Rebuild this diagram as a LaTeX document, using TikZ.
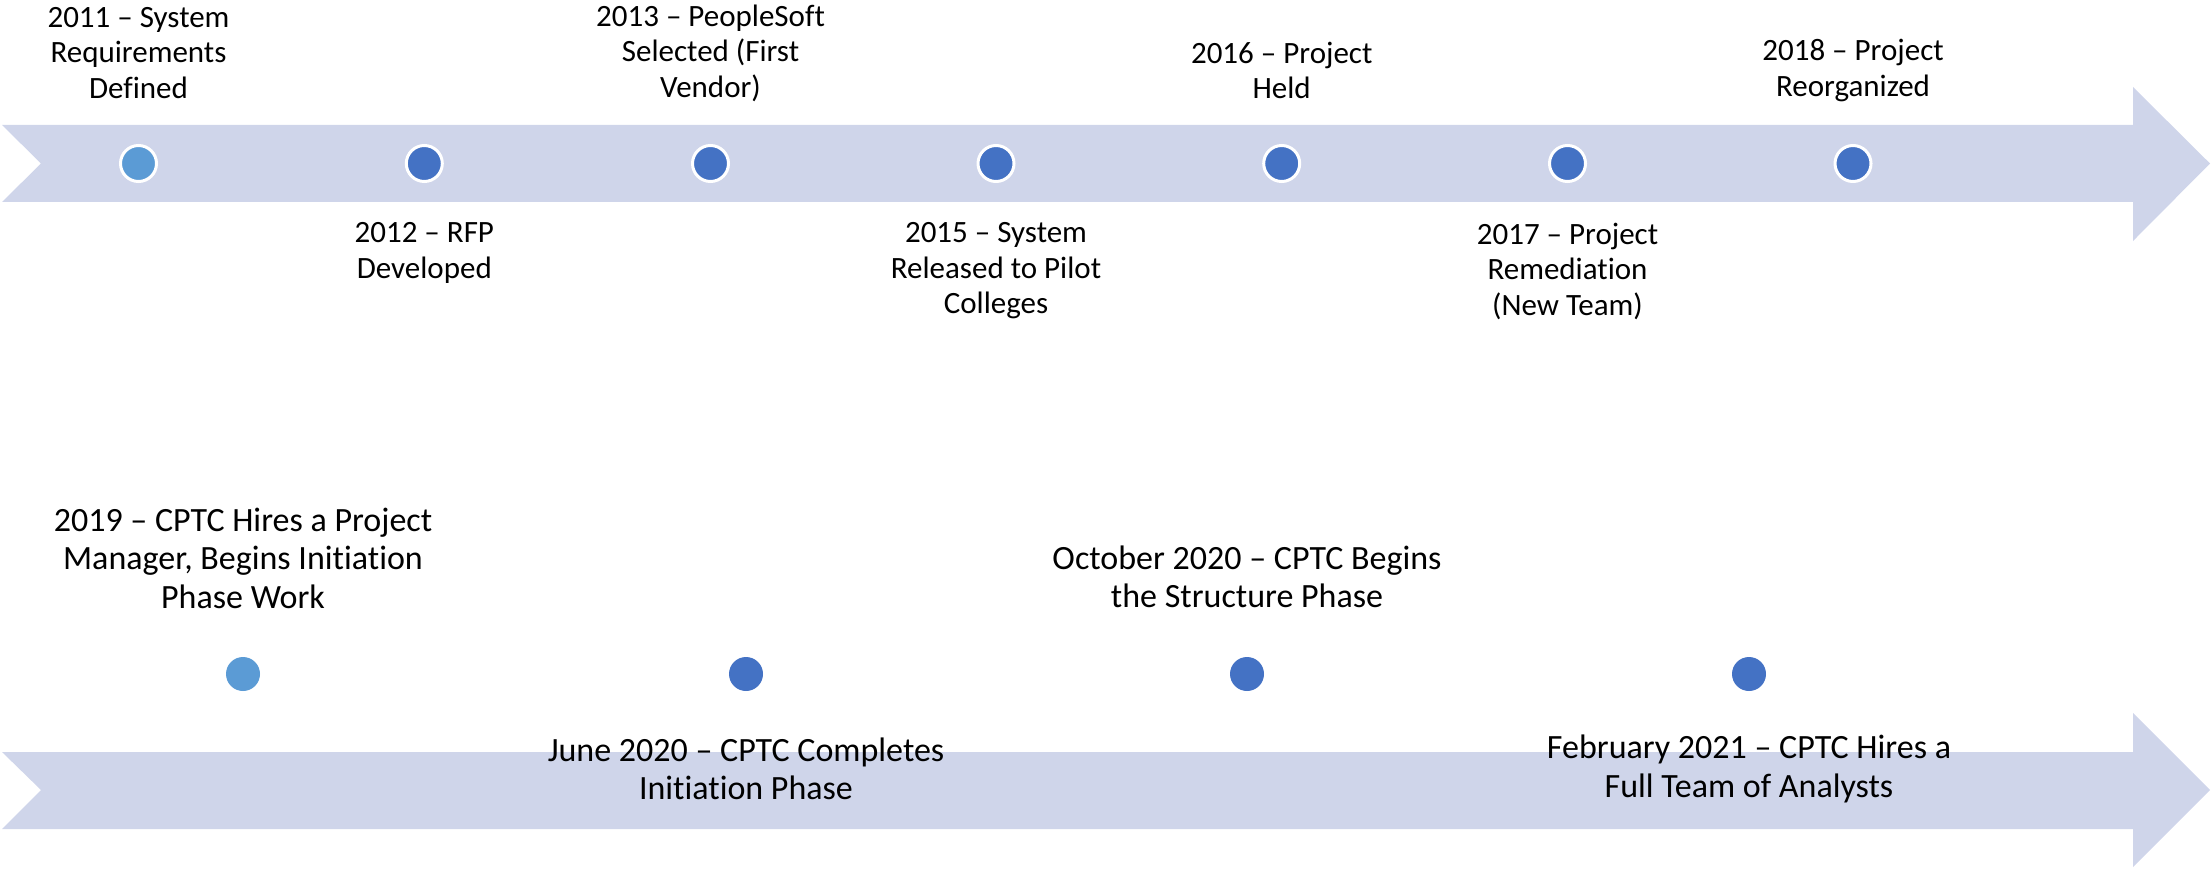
\documentclass[tikz,border=0pt]{standalone}
\usepackage{fontspec}
\setmainfont{Carlito}[Ligatures=NoCommon]
\definecolor{band}{HTML}{CFD5EA}
\definecolor{dotlight}{HTML}{5B9BD5}
\definecolor{dotdark}{HTML}{4472C4}
\tikzset{
  topdot/.style={circle, minimum size=36pt, inner sep=0pt, draw=white, line width=3pt},
  botdot/.style={circle, minimum size=34pt, inner sep=0pt},
  toplbl/.style={align=center, inner sep=0pt, font=\fontsize{31}{35.5}\selectfont},
  botlbl/.style={align=center, inner sep=0pt, font=\fontsize{34}{38.5}\selectfont},
  bandshape/.style={fill=band, draw=none}
}
\begin{document}
\begin{tikzpicture}[x=1pt,y=-1pt]
\path[use as bounding box] (0,0) rectangle (2211,869);
% bands
\fill[bandshape] (2,125) -- (2133,125) -- (2133,87) -- (2210,163.5) -- (2133,241) -- (2133,202) -- (2,202) -- (41,163.5) -- cycle;
\fill[bandshape] (2,752) -- (2133,752) -- (2133,713) -- (2210,790) -- (2133,867) -- (2133,829) -- (2,829) -- (41,790) -- cycle;
% top dots
\node[topdot, fill=dotlight] (d1) at (138.5,163.5) {};
\node[topdot, fill=dotdark] (d2) at (424.3,163.5) {};
\node[topdot, fill=dotdark] (d3) at (710.5,163.5) {};
\node[topdot, fill=dotdark] (d4) at (996,163.5) {};
\node[topdot, fill=dotdark] (d5) at (1281.7,163.5) {};
\node[topdot, fill=dotdark] (d6) at (1567.5,163.5) {};
\node[topdot, fill=dotdark] (d7) at (1853,163.5) {};
% top labels
\node[toplbl] (l1) at (138.5,53) {2011 – System\\Requirements\\Defined};
\node[toplbl] (l2) at (424.3,253) {2012 – RFP\\Developed};
\node[toplbl] (l3) at (710.5,53) {2013 – PeopleSoft\\Selected (First\\Vendor)};
\node[toplbl] (l4) at (996,271) {2015 – System\\Released to Pilot\\Colleges};
\node[toplbl] (l5) at (1281.7,70.5) {2016 – Project\\Held};
\node[toplbl] (l6) at (1567.5,271) {2017 – Project\\Remediation\\(New Team)};
\node[toplbl] (l7) at (1853,70.5) {2018 – Project\\Reorganized};
% bottom dots
\node[botdot, fill=dotlight] (e1) at (243,674) {};
\node[botdot, fill=dotdark] (e2) at (746,674) {};
\node[botdot, fill=dotdark] (e3) at (1247,674) {};
\node[botdot, fill=dotdark] (e4) at (1749,674) {};
% bottom labels
\node[botlbl] (m1) at (243,558) {2019 – CPTC Hires a Project\\Manager, Begins Initiation\\Phase Work};
\node[botlbl] (m2) at (746,769) {June 2020 – CPTC Completes\\Initiation Phase};
\node[botlbl] (m3) at (1247,577) {October 2020 – CPTC Begins\\the Structure Phase};
\node[botlbl] (m4) at (1749,769) {February 2021 – CPTC Hires a\\Full Team of Analysts};
\end{tikzpicture}
\end{document}
